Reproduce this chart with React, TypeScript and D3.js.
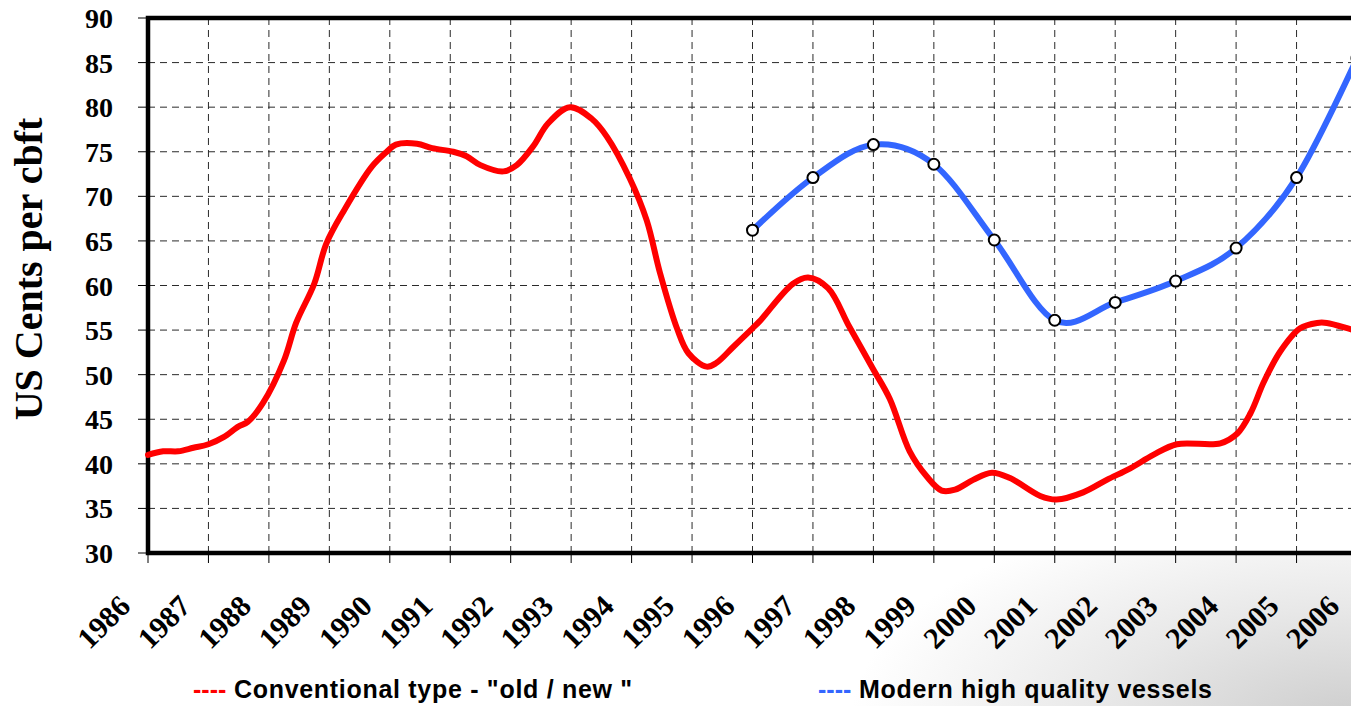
import { useEffect, useRef } from "react";
import * as d3 from "d3";

// conventional type (red), decimal years
const convYears = [
  1986.0, 1986.25, 1986.5, 1986.75, 1987.0, 1987.25, 1987.5, 1987.65, 1987.9, 1988.25,
  1988.45, 1988.75, 1988.95, 1989.25, 1989.7, 1989.95, 1990.1, 1990.45, 1990.7, 1991.05,
  1991.27, 1991.5, 1991.88, 1992.1, 1992.37, 1992.62, 1992.98, 1993.34, 1993.59, 1993.97,
  1994.25, 1994.47, 1994.75, 1994.94, 1995.24, 1995.4, 1995.68, 1996.0, 1996.12, 1996.67,
  1996.92, 1997.25, 1997.6, 1997.99, 1998.27, 1998.6, 1998.88, 1999.13, 1999.35, 1999.65,
  1999.96, 2000.26, 2000.76, 2001.03, 2001.47, 2001.86, 2002.25, 2002.63, 2003.02, 2003.74,
  2004.02, 2004.24, 2004.46, 2004.73, 2005.06, 2005.34, 2005.5, 2005.89, 2006.0,
];
const convValues = [
  41.0, 41.4, 41.4, 41.8, 42.2, 43.0, 44.2, 44.7, 46.8, 51.6,
  55.8, 60.2, 64.7, 68.5, 73.3, 75.0, 75.8, 75.9, 75.4, 75.0,
  74.5, 73.5, 72.8, 73.5, 75.6, 78.2, 80.0, 78.7, 76.7, 72.0,
  67.3, 61.4, 55.2, 52.4, 50.9, 51.3, 53.1, 55.2, 56.0, 60.2,
  60.9, 59.7, 55.4, 50.7, 47.3, 41.4, 38.6, 37.0, 37.1, 38.2,
  39.0, 38.4, 36.4, 36.0, 36.8, 38.2, 39.5, 41.0, 42.2, 42.3,
  43.4, 45.7, 49.2, 52.6, 55.2, 55.8, 55.8, 55.1, 54.9,
];

// modern high quality vessels (blue), yearly points
const modernYears = [1996, 1997, 1998, 1999, 2000, 2001, 2002, 2003, 2004, 2005, 2006];
const modernValues = [66.2, 72.1, 75.8, 73.6, 65.1, 56.1, 58.1, 60.5, 64.2, 72.1, 85.5];

const yTicks = [30, 35, 40, 45, 50, 55, 60, 65, 70, 75, 80, 85, 90];
const xTicks = d3.range(1986, 2007);

const W = 1351;
const H = 706;

export default function App() {
  const svgRef = useRef<SVGSVGElement | null>(null);

  useEffect(() => {
    const svg = d3.select(svgRef.current);
    svg.selectAll("*").remove();

    const left = 148, top = 18, bottom = 553;
    const right = left + 20 * 60.45;

    const x = d3.scaleLinear().domain([1986, 2006]).range([left, right]);
    const y = d3.scaleLinear().domain([30, 90]).range([bottom, top]);

    const defs = svg.append("defs");
    const grad = defs.append("radialGradient")
      .attr("id", "bg")
      .attr("gradientUnits", "userSpaceOnUse")
      .attr("cx", 1351).attr("cy", 720).attr("r", 500)
      .attr("gradientTransform", "translate(1351,720) scale(1,0.45) translate(-1351,-720)");
    grad.append("stop").attr("offset", "0%").attr("stop-color", "#cdcdcd");
    grad.append("stop").attr("offset", "50%").attr("stop-color", "#e8e8e8");
    grad.append("stop").attr("offset", "100%").attr("stop-color", "#ffffff");

    svg.append("rect").attr("width", W).attr("height", H).attr("fill", "#fff");
    svg.append("rect").attr("width", W).attr("height", H).attr("fill", "url(#bg)");
    svg.append("rect").attr("x", left).attr("y", top)
      .attr("width", right - left).attr("height", bottom - top).attr("fill", "#fff");

    // grid
    const grid = svg.append("g").attr("stroke", "#2a2a2a").attr("stroke-width", 1).attr("stroke-dasharray", "7,5");
    grid.selectAll("line.h").data(yTicks.filter(d => d > 30 && d < 90)).join("line")
      .attr("x1", left).attr("x2", right)
      .attr("y1", d => y(d)).attr("y2", d => y(d));
    grid.selectAll("line.v").data(xTicks.filter(d => d > 1986)).join("line")
      .attr("class", "v")
      .attr("x1", d => x(d)).attr("x2", d => x(d))
      .attr("y1", top).attr("y2", bottom);

    // tick marks
    svg.append("g").attr("stroke", "#000").attr("stroke-width", 1)
      .selectAll("line").data(yTicks).join("line")
      .attr("x1", left - 10).attr("x2", left).attr("y1", d => y(d)).attr("y2", d => y(d));
    svg.append("g").attr("stroke", "#000").attr("stroke-width", 1)
      .selectAll("line").data(xTicks).join("line")
      .attr("x1", d => x(d)).attr("x2", d => x(d)).attr("y1", bottom).attr("y2", bottom + 10);

    // frame
    svg.append("rect").attr("x", left).attr("y", top)
      .attr("width", right - left).attr("height", bottom - top)
      .attr("fill", "none").attr("stroke", "#000").attr("stroke-width", 4.5);

    // y labels
    svg.append("g").selectAll("text").data(yTicks).join("text")
      .attr("x", 113).attr("y", d => y(d)).attr("dy", "0.36em")
      .attr("text-anchor", "end")
      .style("font-family", "'Liberation Serif', 'Times New Roman', serif")
      .style("font-weight", "bold").style("font-size", "28px")
      .text(d => d);

    // x labels
    svg.append("g").selectAll("text").data(xTicks).join("text")
      .attr("transform", d => `translate(${x(d) - 16},608) rotate(-45)`)
      .attr("text-anchor", "end")
      .style("font-family", "'Liberation Serif', 'Times New Roman', serif")
      .style("font-weight", "bold").style("font-size", "30px")
      .text(d => d);

    // axis title
    svg.append("text")
      .attr("transform", "translate(42,269) rotate(-90)")
      .attr("text-anchor", "middle")
      .style("font-family", "'Liberation Serif', 'Times New Roman', serif")
      .style("font-weight", "bold").style("font-size", "40px")
      .text("US Cents per cbft");

    const conv = convYears.map((yr, i) => [yr, convValues[i]] as [number, number]);
    const modern = modernYears.map((yr, i) => [yr, modernValues[i]] as [number, number]);

    const lineConv = d3.line<[number, number]>().x(d => x(d[0])).y(d => y(d[1])).curve(d3.curveCatmullRom);
    const lineModern = d3.line<[number, number]>().x(d => x(d[0])).y(d => y(d[1])).curve(d3.curveCardinal.tension(0));

    svg.append("path").datum(conv)
      .attr("fill", "none").attr("stroke", "#ff0000").attr("stroke-width", 6)
      .attr("stroke-linejoin", "round").attr("stroke-linecap", "round")
      .attr("d", lineConv);

    svg.append("path").datum(modern)
      .attr("fill", "none").attr("stroke", "#3366ff").attr("stroke-width", 6)
      .attr("stroke-linejoin", "round")
      .attr("d", lineModern);

    svg.append("g").selectAll("circle").data(modern).join("circle")
      .attr("cx", d => x(d[0])).attr("cy", d => y(d[1])).attr("r", 5.5)
      .attr("fill", "#fff").attr("stroke", "#000").attr("stroke-width", 2);

    // legend
    const legend = svg.append("g")
      .style("font-family", "'Liberation Sans', Arial, sans-serif")
      .style("font-weight", "bold").style("font-size", "25px")
      .style("letter-spacing", "0.7px");
    const items = [
      { label: "Conventional type - \"old / new \"", color: "#ff0000", x0: 193 },
      { label: "Modern high quality vessels", color: "#3366ff", x0: 818 },
    ];
    items.forEach(it => {
      const t = legend.append("text").attr("x", it.x0).attr("y", 698);
      t.append("tspan").attr("fill", it.color).style("letter-spacing", "0px").text("----");
      t.append("tspan").attr("fill", "#000").text(" " + it.label);
    });
  }, []);

  return (
    <svg ref={svgRef} width={W} height={H}
      style={{ position: "absolute", left: 0, top: 0, display: "block" }} />
  );
}
